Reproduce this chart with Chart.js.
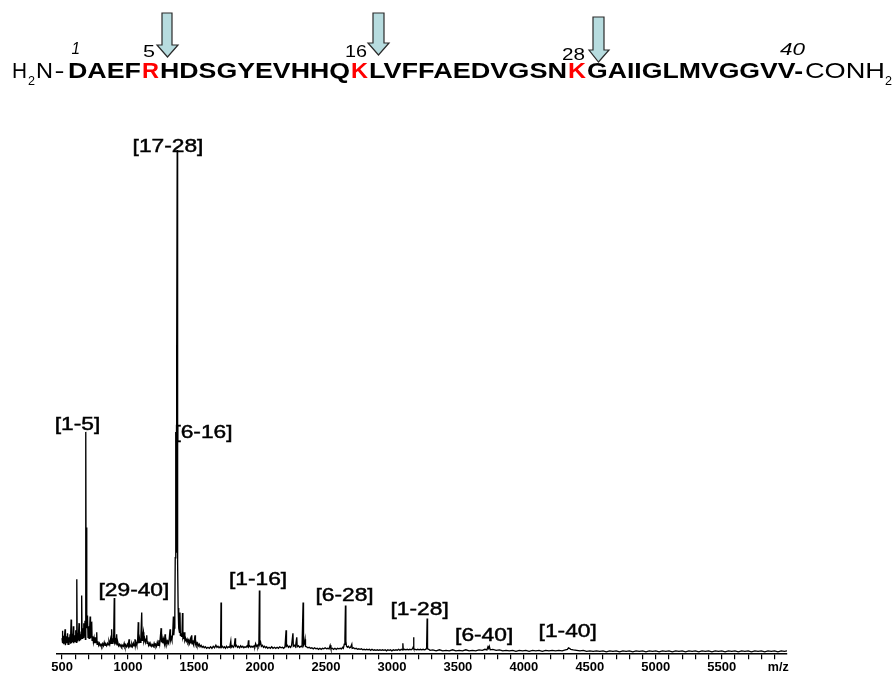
<!DOCTYPE html>
<html><head><meta charset="utf-8">
<script src="https://cdn.jsdelivr.net/npm/chart.js@4.4.1/dist/chart.umd.min.js"></script>
<style>
html,body{margin:0;padding:0;background:#fff;}
#wrap{position:relative;width:895px;height:675px;overflow:hidden;background:#fff;}
#c{position:absolute;left:0;top:0;}
#seq{position:absolute;left:0;top:0;pointer-events:none;}
</style></head><body>
<div id="wrap">
<canvas id="c" width="895" height="675"></canvas>
<svg id="seq" width="895" height="100" xmlns="http://www.w3.org/2000/svg" font-family="'Liberation Sans', Arial, sans-serif">
  <g fill="#b7dcdf" stroke="#2a2a2a" stroke-width="1.2" stroke-linejoin="miter">
    <polygon points="162,13 172,13 172,45 178,45 167.5,57 157,45 162,45"/>
    <polygon points="373,13 384,13 384,43 389,43 378.5,55 368,43 373,43"/>
    <polygon points="593,17 604,17 604,50 609,50 598.5,62 589,50 593,50"/>
  </g>
  <g fill="#000">
    <text x="71.5" y="53.5" font-size="16" font-style="italic" textLength="8.5" lengthAdjust="spacingAndGlyphs">1</text>
    <text x="143" y="56.7" font-size="16" textLength="12" lengthAdjust="spacingAndGlyphs">5</text>
    <text x="345" y="57.3" font-size="16" textLength="22" lengthAdjust="spacingAndGlyphs">16</text>
    <text x="562" y="60" font-size="16" textLength="23" lengthAdjust="spacingAndGlyphs">28</text>
    <text x="780" y="55" font-size="16" font-style="italic" textLength="25" lengthAdjust="spacingAndGlyphs">40</text>

    <text x="12" y="78" font-size="21.5" textLength="15" lengthAdjust="spacingAndGlyphs">H</text>
    <text x="28" y="85" font-size="13" textLength="7" lengthAdjust="spacingAndGlyphs">2</text>
    <text x="36" y="78" font-size="21.5" textLength="17" lengthAdjust="spacingAndGlyphs">N</text>
    <text x="54.5" y="78" font-size="21.5" textLength="10" lengthAdjust="spacingAndGlyphs">-</text>
    <text x="68" y="78" font-size="21.5" font-weight="bold" textLength="73" lengthAdjust="spacingAndGlyphs">DAEF</text>
    <text x="142" y="78" font-size="21.5" font-weight="bold" fill="#ff0000" textLength="17" lengthAdjust="spacingAndGlyphs">R</text>
    <text x="160" y="78" font-size="21.5" font-weight="bold" textLength="190" lengthAdjust="spacingAndGlyphs">HDSGYEVHHQ</text>
    <text x="351" y="78" font-size="21.5" font-weight="bold" fill="#ff0000" textLength="17" lengthAdjust="spacingAndGlyphs">K</text>
    <text x="369" y="78" font-size="21.5" font-weight="bold" textLength="198" lengthAdjust="spacingAndGlyphs">LVFFAEDVGSN</text>
    <text x="568" y="78" font-size="21.5" font-weight="bold" fill="#ff0000" textLength="18" lengthAdjust="spacingAndGlyphs">K</text>
    <text x="587" y="78" font-size="21.5" font-weight="bold" textLength="216" lengthAdjust="spacingAndGlyphs">GAIIGLMVGGVV-</text>
    <text x="805" y="78" font-size="21.5" textLength="80" lengthAdjust="spacingAndGlyphs">CONH</text>
    <text x="885" y="85" font-size="13" textLength="7" lengthAdjust="spacingAndGlyphs">2</text>
  </g>
</svg>
</div>
<script>
// ---- data: [m/z, relative intensity] ----
const spectrum = [
[500,3.0],[503,4.5],[506,2.0],[510,3.5],[514,1.8],[518,3.0],[523,4.8],[526,1.6],[532,3.4],[537,2.0],[542,4.0],[546,1.8],[552,3.2],[556,2.2],[561,3.8],[564,1.9],[569,6.7],[572,2.0],[577,3.0],[581,2.2],[586,5.4],[589,2.0],[595,3.6],[599,2.4],[604,4.6],[608,2.2],[612,14.7],[615,2.5],[619,4.0],[623,2.6],[629,6.0],[632,2.4],[637,3.8],[641,2.6],[645,4.2],[649,11.5],[652,3.0],[657,5.0],[661,3.2],[665,6.0],[669,3.5],[674,6.5],[677,2.8],[680,44.0],[683,6.0],[686,25.0],[689,5.0],[693,7.5],[697,3.2],[701,5.4],[705,3.0],[709,4.6],[713,7.3],[716,3.0],[721,4.0],[725,6.3],[728,2.6],[733,3.4],[738,2.2],[743,3.0],[747,2.0],[751,3.2],[755,2.0],[759,3.0],[763,4.2],[766,1.8],[772,2.4],[778,1.6],[784,2.0],[790,1.5],[796,1.8],
[802,1.4],[808,1.9],[814,1.5],[820,2.2],[826,1.6],[832,1.8],[838,1.5],[844,2.0],[850,1.7],[856,2.4],[862,1.8],[868,2.8],[872,2.0],[876,4.8],[880,2.0],[886,3.0],[891,2.2],[896,11.0],[899,2.2],[904,2.6],[909,1.8],[914,3.8],[917,1.7],[923,2.2],[929,1.5],[935,1.8],[941,1.4],[947,1.7],[953,1.3],[959,1.6],[965,1.4],[971,2.0],[977,1.3],[983,1.6],[989,1.3],[995,1.8],[1001,1.4],[1008,2.8],[1011,1.4],[1017,1.7],[1023,1.3],[1029,1.9],[1035,1.4],[1041,2.0],[1047,1.5],[1053,2.8],[1056,1.5],[1061,2.2],[1067,1.6],[1073,2.4],[1078,6.2],[1081,2.0],[1087,3.0],[1092,2.2],[1098,3.4],[1104,8.1],[1107,2.6],[1112,3.4],[1117,4.2],[1120,2.4],[1126,3.0],[1132,2.2],[1137,2.8],[1142,3.6],[1145,2.0],[1150,2.4],[1156,1.6],[1162,2.0],[1168,1.5],[1174,1.8],[1180,1.4],[1186,1.7],[1192,1.4],[1198,2.0],
[1204,1.5],[1210,1.8],[1216,1.4],[1222,2.2],[1228,1.6],[1234,2.6],[1240,1.8],[1245,3.2],[1251,5.0],[1254,2.2],[1259,3.0],[1264,2.0],[1269,2.8],[1275,2.0],[1281,3.8],[1284,2.0],[1289,2.6],[1295,1.8],[1301,2.4],[1307,2.0],[1313,3.0],[1319,4.8],[1322,2.6],[1327,3.2],[1333,2.6],[1339,4.0],[1344,7.3],[1347,3.6],[1351,5.0],[1355,8.0],[1358,19.0],[1361,30.0],[1363,44.0],[1365,38.0],[1367,20.0],[1369,28.0],[1371,60.0],[1373,100.0],[1375,40.0],[1377,18.0],[1380,9.0],[1383,6.0],[1386,5.0],[1390,4.2],[1394,8.1],[1397,3.6],[1401,4.0],[1405,3.4],[1409,3.8],[1413,8.0],[1416,3.2],[1420,3.6],[1424,2.8],[1428,4.2],[1431,2.6],[1436,3.0],[1442,2.4],[1448,2.8],[1454,2.2],[1460,2.6],[1466,2.0],[1472,2.8],[1477,2.0],[1483,3.6],[1486,1.9],[1492,2.6],[1497,1.8],[1502,2.4],[1508,3.6],[1511,1.8],[1516,2.2],
[1522,1.6],[1528,2.0],[1534,1.5],[1540,1.8],[1546,1.3],[1554,1.6],[1562,1.2],[1570,1.4],[1578,1.1],[1586,1.3],[1596,1.0],[1606,1.2],[1616,1.0],[1626,1.3],[1636,1.0],[1646,1.4],[1656,1.1],[1666,1.6],[1674,1.2],[1682,1.4],[1690,1.1],[1698,1.3],[1702,1.2],[1705,10.1],[1708,1.2],[1715,1.4],[1723,1.1],[1731,1.3],[1739,1.0],[1747,1.4],[1755,1.1],[1763,1.3],[1771,1.2],[1779,2.4],[1782,1.2],[1790,1.5],[1798,1.2],
[1806,1.6],[1812,3.0],[1815,1.4],[1822,1.6],[1830,1.2],[1838,1.4],[1846,1.1],[1854,1.5],[1862,1.2],[1870,1.4],[1878,1.1],[1886,1.3],[1894,1.2],[1902,1.5],[1908,1.3],[1913,2.6],[1916,1.3],[1923,1.5],[1931,1.2],[1939,1.4],[1947,1.2],[1955,1.5],[1961,1.3],[1967,1.9],[1973,1.4],[1979,1.6],[1985,1.3],[1992,2.0],[1996,12.5],[1999,1.8],[2005,2.2],[2011,1.4],[2019,1.6],[2027,1.2],[2035,1.4],[2043,1.1],[2051,1.3],[2059,1.0],[2069,1.2],[2079,1.0],[2089,1.3],[2099,1.0],
[2110,1.2],[2120,1.0],[2130,1.2],[2140,1.0],[2150,1.3],[2160,1.1],[2170,1.2],[2180,1.0],[2190,1.3],[2198,4.6],[2201,1.4],[2208,1.6],[2216,1.2],[2224,1.4],[2232,1.2],[2240,1.6],[2250,4.0],[2253,1.4],[2261,1.6],[2269,1.3],[2279,3.2],[2282,1.3],[2291,1.5],[2301,1.2],[2311,1.4],[2319,1.3],[2327,10.1],[2330,1.6],[2337,2.0],[2342,2.8],[2345,1.4],[2353,1.3],[2363,1.1],[2373,1.2],[2383,1.0],[2393,1.1],
[2404,0.9],[2414,1.1],[2424,0.9],[2434,1.0],[2444,0.8],[2454,1.0],[2464,0.8],[2474,1.0],[2484,0.9],[2494,1.1],[2504,0.9],[2514,1.0],[2524,0.9],[2532,1.6],[2538,0.9],[2548,1.0],[2558,0.8],[2568,1.0],[2578,0.8],[2588,1.0],[2598,0.9],[2608,1.0],[2618,0.9],[2626,1.2],[2632,1.0],[2639,1.8],[2644,3.0],[2648,9.5],[2651,2.4],[2656,1.4],[2663,1.2],[2671,1.4],[2679,1.1],[2687,1.2],[2696,1.8],[2699,1.0],
[2709,1.1],[2719,0.9],[2729,1.0],[2739,0.8],[2749,0.9],[2759,0.8],[2769,0.9],[2779,0.7],[2789,0.8],[2799,0.7],[2809,0.8],[2819,0.7],[2829,0.8],[2839,0.6],[2849,0.8],[2859,0.6],[2869,0.7],[2879,0.6],[2889,0.7],[2899,0.6],[2909,0.7],[2919,0.6],[2929,0.7],[2939,0.6],[2949,0.7],[2959,0.5],[2969,0.7],[2979,0.6],[2989,0.7],[2999,0.5],
[3011,0.7],[3021,0.6],[3031,0.7],[3041,0.6],[3051,0.8],[3061,0.6],[3071,0.8],[3078,0.7],[3083,2.0],[3086,0.7],[3096,0.8],[3106,0.7],[3116,0.8],[3126,0.7],[3136,0.8],[3146,0.7],[3156,0.9],[3161,1.2],[3164,3.2],[3167,0.9],[3176,0.8],[3186,0.7],[3196,0.8],[3206,0.7],[3216,0.8],[3226,0.7],[3236,0.8],[3246,0.7],[3256,0.8],[3263,1.0],[3267,6.9],[3270,0.9],[3279,0.8],[3289,0.6],
[3310,0.7],[3335,0.5],[3360,0.7],[3385,0.5],[3410,0.6],[3435,0.5],[3460,0.7],[3485,0.5],[3510,0.6],[3535,0.5],[3560,0.7],[3585,0.5],[3610,0.6],[3635,0.5],[3660,0.7],[3685,0.6],[3705,0.8],[3720,0.7],[3728,1.3],[3733,1.0],[3738,1.4],[3745,0.7],[3765,0.8],[3790,0.6],[3815,0.7],[3840,0.5],[3865,0.6],[3890,0.5],[3915,0.6],[3940,0.4],[3965,0.6],[3990,0.5],[4015,0.6],[4040,0.4],[4065,0.6],[4090,0.5],[4115,0.6],[4140,0.4],[4165,0.6],[4190,0.5],[4215,0.6],[4240,0.5],[4265,0.6],[4290,0.5],[4315,0.7],[4330,0.8],[4338,1.1],[4345,1.0],[4355,0.8],[4375,0.7],[4400,0.6],[4425,0.5],[4450,0.6],[4475,0.4],[4500,0.5],[4525,0.4],[4550,0.5],[4575,0.4],[4600,0.5],[4625,0.3],[4650,0.5],[4675,0.4],[4700,0.5],[4725,0.3],[4750,0.5],[4775,0.4],[4800,0.5],[4825,0.3],[4850,0.5],[4875,0.4],[4900,0.5],[4925,0.3],[4950,0.5],[4975,0.4],[5000,0.5],[5025,0.3],[5050,0.5],[5075,0.4],[5100,0.5],[5125,0.3],[5150,0.5],[5175,0.4],[5200,0.5],[5225,0.3],[5250,0.5],[5275,0.4],[5300,0.5],[5325,0.3],[5350,0.5],[5375,0.4],[5400,0.5],[5425,0.3],[5450,0.5],[5475,0.4],[5500,0.5],[5525,0.3],[5550,0.5],[5575,0.4],[5600,0.5],[5625,0.3],[5650,0.5],[5675,0.4],[5700,0.5],[5725,0.3],[5750,0.5],[5775,0.4],[5800,0.5],[5825,0.3],[5850,0.5],[5875,0.4],[5900,0.5],[5925,0.3],[5950,0.5],[5975,0.4],[5994,0.5]
];

// fragment labels and where they sit (m/z, intensity)
const peakLabels   = ['[17-28]','[1-5]','[6-16]','[29-40]','[1-16]','[6-28]','[1-28]','[6-40]','[1-40]'];
const peakLabelMz  = [1303, 617, 1572, 1045, 1986, 2641, 3210, 3699, 4332];
const peakLabelInt = [100.6, 45.4, 43.8, 12.3, 14.5, 11.3, 8.5, 3.4, 4.2];

// axis ticks
const tickValues = [500,600,700,800,900,1000,1100,1200,1300,1400,1500,1600,1700,1800,1900,2000,2100,2200,2300,2400,2500,2600,2700,2800,2900,3000,3100,3200,3300,3400,3500,3600,3700,3800,3900,4000,4100,4200,4300,4400,4500,4600,4700,4800,4900,5000,5100,5200,5300,5400,5500,5600,5700,5800,5900];
const tickLabels = [500,1000,1500,2000,2500,3000,3500,4000,4500,5000,5500];
const axisUnit = 'm/z';
const axisUnitPos = 5928;
const xMin = 462, xMax = 5994, yMin = 0, yMax = 100;

const labelPlugin = {
  id: 'peakLabels',
  afterDraw(chart) {
    const ctx = chart.ctx, x = chart.scales.x, y = chart.scales.y;
    ctx.save();
    ctx.fillStyle = '#000';
    ctx.strokeStyle = '#000';
    ctx.lineWidth = 0.45;
    ctx.textAlign = 'center';
    ctx.textBaseline = 'middle';
    ctx.font = '17.5px "Liberation Sans", Arial, sans-serif';
    peakLabels.forEach((t, i) => {
      const px = x.getPixelForValue(peakLabelMz[i]);
      const py = y.getPixelForValue(peakLabelInt[i]);
      ctx.save();
      ctx.translate(px, py);
      ctx.scale(1.3, 1);
      ctx.fillText(t, 0, 0);
      ctx.strokeText(t, 0, 0);
      ctx.restore();
    });
    ctx.font = 'bold 12.5px "Liberation Sans", Arial, sans-serif';
    ctx.fillText(axisUnit, x.getPixelForValue(axisUnitPos), chart.chartArea.bottom + 14);
    ctx.restore();
  }
};

new Chart(document.getElementById('c'), {
  type: 'line',
  data: {
    datasets: [{
      data: spectrum.map(p => ({x: p[0], y: p[1]})),
      borderColor: '#000',
      borderWidth: 1.35,
      pointRadius: 0,
      tension: 0,
      fill: false
    }]
  },
  options: {
    responsive: false,
    animation: false,
    devicePixelRatio: 1,
    layout: { padding: { left: 57, right: 108, top: 150, bottom: 0 } },
    plugins: { legend: { display: false }, tooltip: { enabled: false }, title: { display: false } },
    scales: {
      x: {
        type: 'linear',
        min: xMin, max: xMax,
        afterBuildTicks: axis => { axis.ticks = tickValues.map(v => ({ value: v })); },
        border: { display: true, color: '#000', width: 1.6 },
        grid: { display: true, drawOnChartArea: false, drawTicks: true, tickLength: 6, color: '#000', lineWidth: 1.2 },
        ticks: {
          autoSkip: false, maxRotation: 0, padding: 1, color: '#000',
          font: { family: '"Liberation Sans", Arial, sans-serif', size: 13, weight: 'bold', lineHeight: 1.05 },
          callback: v => tickLabels.includes(v) ? String(v) : ''
        }
      },
      y: { display: false, min: yMin, max: yMax }
    }
  },
  plugins: [labelPlugin]
});
</script>
</body></html>
